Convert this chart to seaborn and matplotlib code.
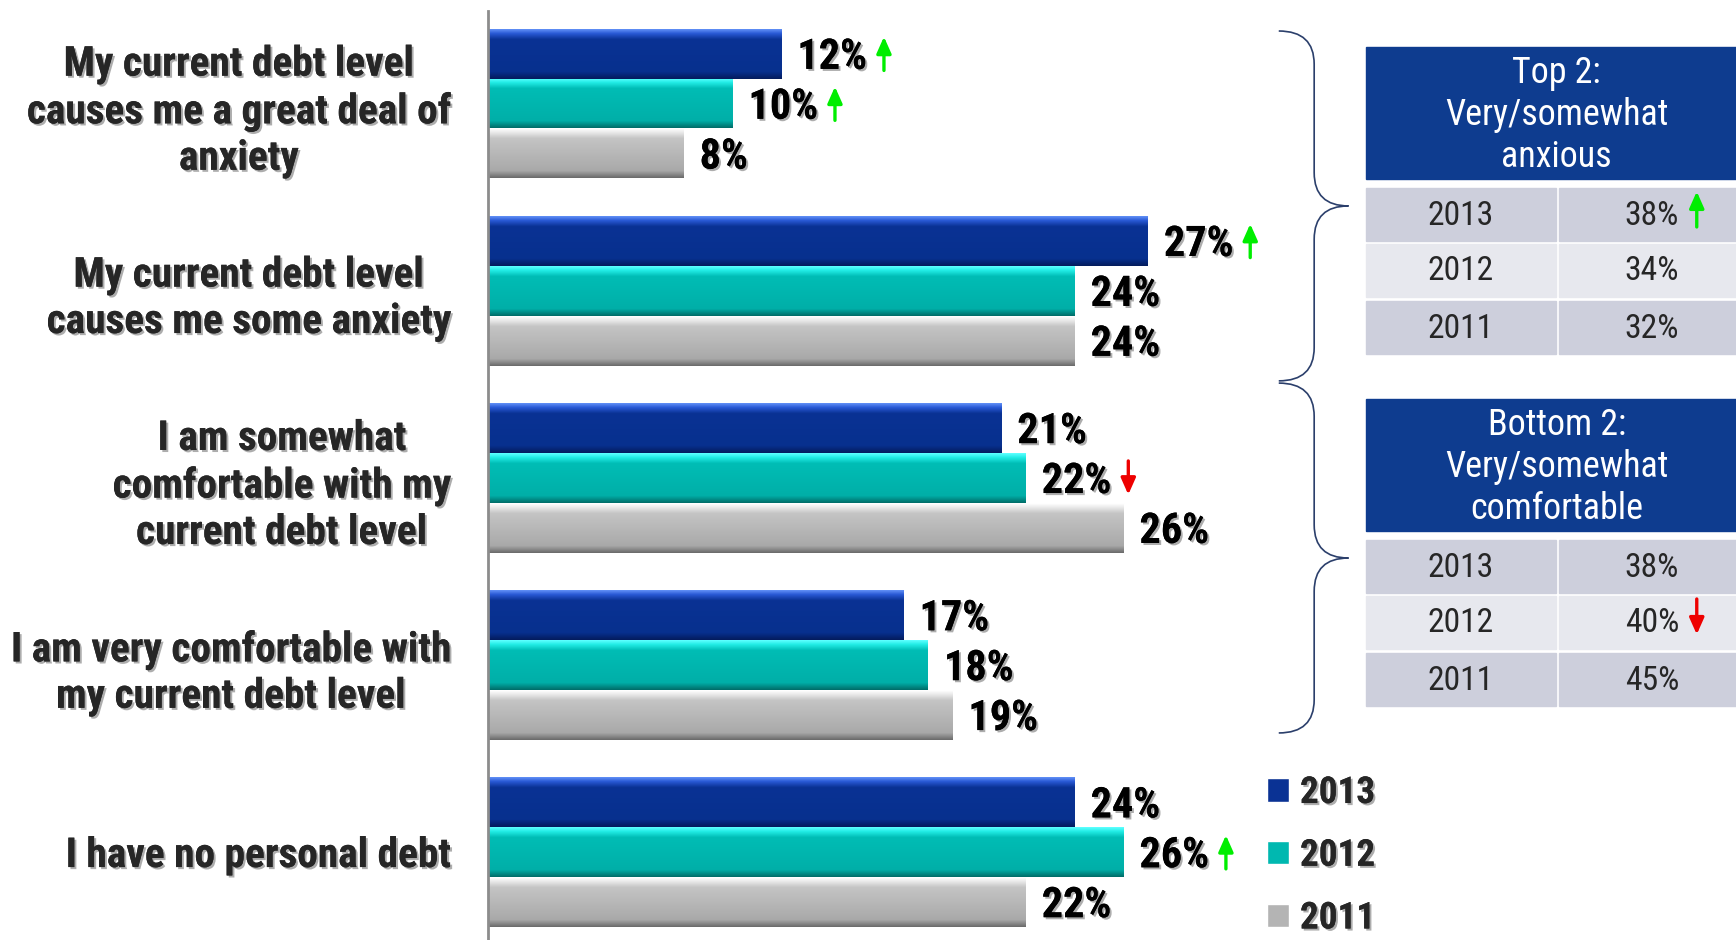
import numpy as np
import pandas as pd
import seaborn as sns
import matplotlib.pyplot as plt
import matplotlib.patheffects as pe
from matplotlib import font_manager as fm
from matplotlib.colors import LinearSegmentedColormap
from matplotlib.patches import Rectangle, PathPatch
from matplotlib.path import Path

# ---- data ----
statements = ["My current debt level\ncauses me a great deal of\nanxiety",
              "My current debt level\ncauses me some anxiety",
              "I am somewhat\ncomfortable with my\ncurrent debt level",
              "I am very comfortable with\nmy current debt level",
              "I have no personal debt"]
years = ["2013", "2012", "2011"]
pct_2013 = [12, 27, 21, 17, 24]
pct_2012 = [10, 24, 22, 18, 26]
pct_2011 = [8, 24, 26, 19, 22]
# significant change markers: (year, statement index, direction)
bar_arrows = [("2013", 0, "up"), ("2012", 0, "up"), ("2013", 1, "up"),
              ("2012", 2, "down"), ("2012", 4, "up")]

top_title = "Top 2:\nVery/somewhat\nanxious"
top_vals = ["38%", "34%", "32%"]
top_arrows = ["up", None, None]
bottom_title = "Bottom 2:\nVery/somewhat\ncomfortable"
bottom_vals = ["38%", "40%", "45%"]
bottom_arrows = [None, "down", None]


# ---- pick a narrow font if one is installed (reference uses Arial Narrow) ----
def wnum(w):
    return w if isinstance(w, (int, float)) else fm.weight_dict.get(w, 400)


pref = ['Liberation Sans Narrow', 'Roboto Condensed', 'Noto Sans Condensed',
        'Noto Sans SemiCondensed', 'DejaVu Sans Condensed', 'DejaVu Sans', 'Noto Sans',
        'Open Sans Condensed', 'Open Sans', 'Roboto', 'Lato', 'Inter']


def pick(target_w, fallback_weight):
    best = None
    for f in fm.fontManager.ttflist:
        if f.style != 'normal' or f.name not in pref:
            continue
        cond = (f.stretch not in ('normal', 'semi-expanded', 'expanded', 'extra-expanded',
                                  'ultra-expanded')
                or 'Narrow' in f.name or 'Condensed' in f.name)
        if not cond:
            continue
        extra = 1 if ('Extra' in f.fname or 'Ultra' in f.fname) else 0
        key = (pref.index(f.name), extra, abs(wnum(f.weight) - target_w))
        if best is None or key < best[0]:
            best = (key, f.fname)
    if best:
        return dict(fname=best[1])
    return dict(family=['Roboto', 'DejaVu Sans'], weight=fallback_weight)


bold_font = pick(700, 'bold')
reg_font = pick(400, 'normal')


def fp(base, size):
    return fm.FontProperties(size=size, **base)


sns.set_style("white")
plt.rcParams['font.family'] = ['Roboto', 'DejaVu Sans']

fig = plt.figure(figsize=(17.36, 9.40), dpi=100)
renderer = fig.canvas.get_renderer()
W, H = 1568, 849   # layout grid in reference proportions
S = 1736 / W       # grid unit -> output pixels
px_per_pct = 22.07


def fit(base, text, target, size):
    # shrink the font until the widest line is no wider than in the reference
    w = max(renderer.get_text_width_height_descent(s, fp(base, size), ismath=False)[0]
            for s in text.split("\n"))
    return min(size, size * target * S / w)


over = fig.add_axes([0, 0, 1, 1], zorder=0)
over.set_xlim(0, W)
over.set_ylim(H, 0)
over.set_axis_off()

ax = fig.add_axes([441 / W, 0, 32 * px_per_pct / W, 1 - 10 / H], zorder=1)
ax.set_facecolor("none")

df = pd.DataFrame({"statement": statements * 3,
                   "pct": pct_2013 + pct_2012 + pct_2011,
                   "year": np.repeat(years, len(statements))})
colors = {"2013": "#0A3294", "2012": "#00B8B0", "2011": "#B4B4B4"}
sns.barplot(data=df, x="pct", y="statement", hue="year", hue_order=years,
            palette=colors, orient="h", width=0.8, saturation=1, ax=ax)

ax.set_xlim(0, 32)
ax.set_ylim(4.47, -0.494)

# bevelled look: vertical gradient clipped to each bar
stops = [0.0, 0.08, 0.2, 0.86, 1.0]
grad = {"2013": ["#5F8EF5", "#2A5AD6", "#0A3294", "#07308E", "#041C5E"],
        "2012": ["#5CFFFF", "#22EDE6", "#00BDB5", "#00AFA8", "#006E6A"],
        "2011": ["#FFFFFF", "#EAEAEA", "#C4C4C4", "#A9A9A9", "#6C6C6C"]}
shadow = [pe.withSimplePatchShadow(offset=(1.5, -1.5), shadow_rgbFace="#777777", alpha=0.6),
          pe.Normal()]
val_fp = fp(bold_font, fit(bold_font, "12%", 63, 34))
arrow_props = dict(arrowstyle="-|>,head_width=0.2,head_length=0.45", lw=2.4,
                   mutation_scale=22, shrinkA=0, shrinkB=0)

arrow_jobs = []
for year, cont in zip(years, ax.containers):
    cmap = LinearSegmentedColormap.from_list(year, list(zip(stops, grad[year])))
    for i, (bar, v) in enumerate(zip(cont, cont.datavalues)):
        x0, y0 = bar.get_x(), bar.get_y()
        w, h = bar.get_width(), bar.get_height()
        im = ax.imshow(np.linspace(0, 1, 64).reshape(-1, 1), cmap=cmap, aspect="auto",
                       extent=[x0, x0 + w, y0 + h, y0], origin="upper", zorder=2)
        im.set_clip_path(bar)
        yc = y0 + h / 2
        t = ax.text(v + 0.65, yc + 0.02, f"{v:.0f}%", ha="left", va="center",
                    color="black", fontproperties=val_fp)
        t.set_path_effects(shadow)
        for ay, ai, d in bar_arrows:
            if ay == year and ai == i:
                arrow_jobs.append((t, yc, d))

ax.set_xlim(0, 32)
ax.set_ylim(4.47, -0.494)

for t, yc, d in arrow_jobs:
    x1 = t.get_window_extent(renderer).x1
    xa = ax.transData.inverted().transform((x1 + 15 * S, 0))[0]
    c = "#00EE00" if d == "up" else "#EE0000"
    ya, yb = (yc + 0.09, yc - 0.09) if d == "up" else (yc - 0.09, yc + 0.09)
    ax.annotate("", xy=(xa, yb), xytext=(xa, ya), arrowprops=dict(color=c, **arrow_props))

ax.set_xlabel("")
ax.set_ylabel("")
ax.set_xticks([])
for s in ["top", "right", "bottom"]:
    ax.spines[s].set_visible(False)
ax.spines["left"].set_color("#8C8C8C")
ax.spines["left"].set_linewidth(2)
ax.tick_params(axis="y", length=0, pad=27)
cat_fp = fp(bold_font, fit(bold_font, "causes me a great deal of", 383, 31))
for t in ax.get_yticklabels():
    t.set_fontproperties(cat_fp)
    t.set_multialignment("center")
    t.set_linespacing(1.28)
    t.set_path_effects(shadow)

leg_fp = fp(bold_font, fit(bold_font, "2013", 68, 30))
sns.move_legend(ax, "upper left", bbox_to_anchor=(1144 / W, 1 - 700 / H),
                bbox_transform=fig.transFigure, frameon=False, title=None,
                prop=leg_fp, handlelength=0.6, handleheight=0.6, borderpad=0,
                borderaxespad=0, handletextpad=0.3, labelspacing=0.72)
for t in ax.get_legend().get_texts():
    t.set_path_effects(shadow)


# ---- braces ----
def brace(ya, yb, x0=1155, x1=1187, xt=1218, r=30):
    ym = (ya + yb) / 2
    verts = [(x0, ya), (x1, ya), (x1, ya + r), (x1, ym - r), (x1, ym), (xt, ym),
             (x1, ym), (x1, ym + r), (x1, yb - r), (x1, yb), (x0, yb)]
    codes = [Path.MOVETO, Path.CURVE3, Path.CURVE3, Path.LINETO, Path.CURVE3, Path.CURVE3,
             Path.CURVE3, Path.CURVE3, Path.LINETO, Path.CURVE3, Path.CURVE3]
    over.add_patch(PathPatch(Path(verts, codes), fill=False, edgecolor="#2B3F6B", lw=1.2))


brace(28, 344)
brace(346, 662)

# ---- summary tables ----
header_col = "#0E3C8F"
row_cols = ["#CDCFDC", "#E7E8EE", "#CDCFDC"]
head_fp = fp(reg_font, fit(reg_font, "Very/somewhat", 202, 30))
cell_fp = fp(reg_font, fit(reg_font, "2013", 60, 30))


def table(top, title, vals, arrows):
    over.add_patch(Rectangle((1234, top), W - 1234, 120, color=header_col))
    over.text(1406, top + 62, title, ha="center", va="center", color="white",
              fontproperties=head_fp, linespacing=1.22)
    for i, (off, yr, val, arr) in enumerate(zip([128, 178, 230], years, vals, arrows)):
        y = top + off
        over.add_patch(Rectangle((1234, y), 171, 48, color=row_cols[i]))
        over.add_patch(Rectangle((1408, y), W - 1408, 48, color=row_cols[i]))
        over.text(1319, y + 25, yr, ha="center", va="center", fontproperties=cell_fp)
        t = over.text(1492, y + 25, val, ha="center", va="center", fontproperties=cell_fp)
        if arr:
            x1 = t.get_window_extent(renderer).x1
            xa = over.transData.inverted().transform((x1 + 16 * S, 0))[0]
            c = "#00EE00" if arr == "up" else "#EE0000"
            ya, yb = (y + 35, y + 3) if arr == "up" else (y + 3, y + 35)
            over.annotate("", xy=(xa, yb), xytext=(xa, ya),
                          arrowprops=dict(color=c, **arrow_props))


table(42, top_title, top_vals, top_arrows)
table(360, bottom_title, bottom_vals, bottom_arrows)

fig.savefig("out.png", dpi=100)
